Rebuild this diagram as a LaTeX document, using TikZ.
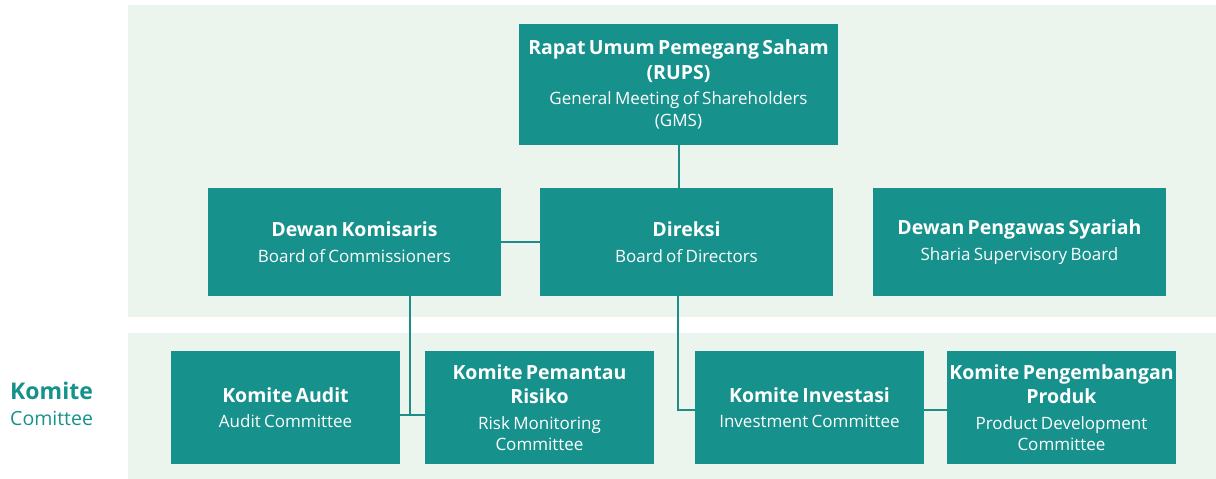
\documentclass[tikz,border=0pt]{standalone}
\usepackage{fontspec}
\setmainfont{Open Sans}
\definecolor{teal}{HTML}{16918C}
\definecolor{panel}{HTML}{EBF5EE}
\definecolor{wire}{HTML}{1E8C87}
% heading and subheading type
\newcommand{\boxhead}[1]{\fontsize{19.5}{24.5}\selectfont\bfseries #1\par}
\newcommand{\boxsub}[1]{\vspace{4pt}\fontsize{17}{21.5}\selectfont\mdseries #1\par}
\begin{document}
\begin{tikzpicture}[x=1pt,y=-1pt,
  box/.style={fill=teal, text=white, align=center, inner sep=0pt, anchor=center},
  topbox/.style={box, minimum width=293pt, minimum height=108pt, text width=290pt},
  combox/.style={box, minimum width=229pt, minimum height=113pt, text width=229pt},
  link/.style={draw=wire, line width=2pt}]
  \useasboundingbox (0,0) rectangle (1216,479);
  % panels
  \fill[panel] (128,5) rectangle (1216,317);
  \fill[panel] (128,333) rectangle (1216,479);
  % general meeting
  \node[box, minimum width=319pt, minimum height=121pt, text width=316pt] (rups) at (678.5,84.5)
    {\boxhead{Rapat Umum Pemegang Saham\\(RUPS)}\boxsub{General Meeting of Shareholders\\(GMS)}};
  % boards
  \node[topbox] (dk) at (354.5,242) {\boxhead{Dewan Komisaris}\boxsub{Board of Commissioners}};
  \node[topbox] (dir) at (686.5,242) {\boxhead{Direksi}\boxsub{Board of Directors}};
  \node[topbox] (dps) at (1019.5,242) {\boxhead{Dewan Pengawas Syariah}\boxsub{Sharia Supervisory Board}};
  % committees
  \node[combox] (aud) at (285.5,407.5) {\boxhead{Komite Audit}\boxsub{Audit Committee}};
  \node[combox] (ris) at (539.5,407.5) {\boxhead{Komite Pemantau\\Risiko}\boxsub{Risk Monitoring\\Committee}};
  \node[combox] (inv) at (809.5,407.5) {\boxhead{Komite Investasi}\boxsub{Investment Committee}};
  \node[combox] (prd) at (1061.5,407.5) {\boxhead{Komite Pengembangan\\Produk}\boxsub{Product Development\\Committee}};
  % side label
  \node[anchor=west, text=teal, align=left, inner sep=0pt, text width=110pt] (lbl) at (10,404)
    {\fontsize{23}{30}\selectfont\bfseries Komite\par\fontsize{19.5}{26}\selectfont\mdseries Comittee\par};
  % connectors
  \coordinate (kj) at (410,415);
  \coordinate (dj) at (678,410);
  \draw[link] (rups.south) -- (rups.south |- dir.north);
  \draw[link] (dk.east) -- (dir.west);
  \draw[link] (dk.south -| kj) -- (kj);
  \draw[link] (aud.east |- kj) -- (ris.west |- kj);
  \draw[link] (dir.south -| dj) -- (dj) -- (inv.west |- dj);
  \draw[link] (inv.east |- dj) -- (prd.west |- dj);
\end{tikzpicture}
\end{document}
